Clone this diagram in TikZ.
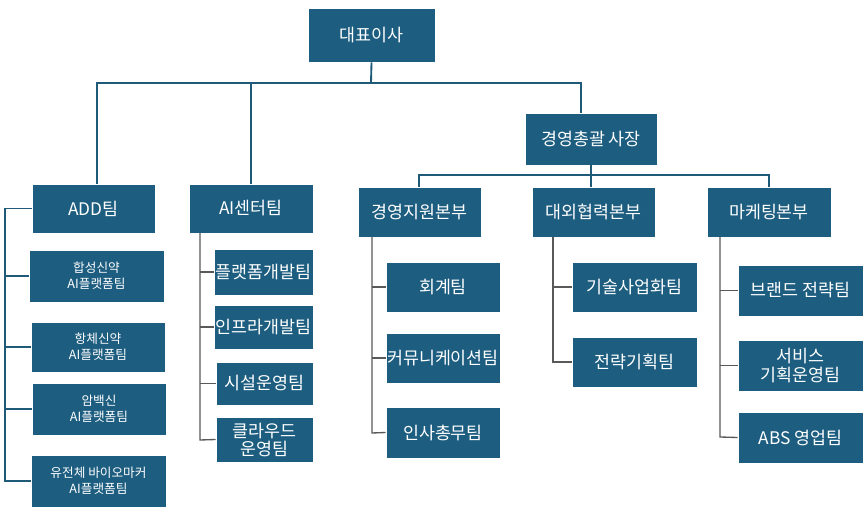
\documentclass[tikz,border=0pt]{standalone}
\usepackage{fontspec}
\setmainfont{Noto Sans CJK KR}
\begin{document}
\begin{tikzpicture}[x=0.75pt,y=-0.75pt,
  box/.style={fill=boxc,draw=white,line width=0.6pt,text=white,align=center,inner sep=0pt},
  conn/.style={draw=linec,line width=1.4pt},
  thin/.style={draw=gray!70!black,line width=1pt}]
\definecolor{boxc}{HTML}{1C5D80}
\definecolor{linec}{HTML}{1F5A78}
\fill[white] (0,0) rectangle (868,509);
\useasboundingbox (0,0) rectangle (868,509);
\newcommand{\bx}[6]{\node[box,minimum width={(#4-#2)*0.75pt},minimum height={(#5-#3)*0.75pt},font=#6] (#1) at ({(#2+#4)/2},{(#3+#5)/2}) {\strut};}
\newcommand{\lb}[3]{\node[text=white,align=center,font=#2] at (#1) {#3};}
\bx{ceo}{308}{8}{435}{62}{}
\bx{pres}{525}{113}{657}{165}{}
\bx{add}{32}{184}{155}{233}{}
\bx{aic}{189}{184}{313}{233}{}
\bx{a1}{29}{250}{164}{302}{}
\bx{a2}{31}{322}{165}{372}{}
\bx{a3}{32}{383}{166}{435}{}
\bx{a4}{31}{455}{166}{507}{}
\bx{c1}{214}{249}{313}{295}{}
\bx{c2}{214}{305}{313}{349}{}
\bx{c3}{216}{362}{313}{405}{}
\bx{c4}{216}{417}{313}{462}{}
\bx{m}{358}{187}{481}{237}{}
\bx{e}{532}{187}{655}{237}{}
\bx{k}{707}{187}{831}{237}{}
\bx{m1}{386}{262}{500}{312}{}
\bx{m2}{386}{333}{500}{383}{}
\bx{m3}{386}{407}{500}{458}{}
\bx{e1}{572}{262}{697}{312}{}
\bx{e2}{572}{337}{697}{387}{}
\bx{k1}{738}{265}{863}{316}{}
\bx{k2}{738}{340}{863}{391}{}
\bx{k3}{738}{412}{863}{463}{}
\def\big{\fontsize{13}{15}\selectfont}
\def\sm{\fontsize{9.5}{12}\selectfont}
\lb{ceo}{\big}{대표이사}
\lb{pres}{\big}{경영총괄 사장}
\lb{add}{\big}{ADD팀}
\lb{aic}{\big}{AI센터팀}
\lb{a1}{\sm}{합성신약\\AI플랫폼팀}
\lb{a2}{\sm}{항체신약\\AI플랫폼팀}
\lb{a3}{\sm}{암백신\\AI플랫폼팀}
\lb{a4}{\sm}{유전체 바이오마커\\AI플랫폼팀}
\lb{c1}{\big}{플랫폼개발팀}
\lb{c2}{\big}{인프라개발팀}
\lb{c3}{\big}{시설운영팀}
\lb{c4}{\fontsize{13}{13.5}\selectfont}{클라우드\\운영팀}
\lb{m}{\big}{경영지원본부}
\lb{e}{\big}{대외협력본부}
\lb{k}{\big}{마케팅본부}
\lb{m1}{\big}{회계팀}
\lb{m2}{\big}{커뮤니케이션팀}
\lb{m3}{\big}{인사총무팀}
\lb{e1}{\big}{기술사업화팀}
\lb{e2}{\big}{전략기획팀}
\lb{k1}{\big}{브랜드 전략팀}
\lb{k2}{\fontsize{13}{14}\selectfont}{서비스\\기획운영팀}
\lb{k3}{\big}{ABS 영업팀}
\draw[conn] (ceo.south) -- (371,83);
\draw[conn] (add.north -| 97,0) |- (581,83) -- (pres.north -| 581,0);
\draw[conn] (aic.north -| 251,0) -- (251,83);
\draw[conn] (pres.south) -- (591,175);
\draw[conn] (m.north -| 419,0) |- (769,175) -- (k.north -| 769,0);
\draw[conn] (e.north -| 591,0) -- (591,175);
\draw[conn] (add.west) -- (5,208.5) -- (5,481) -- (a4.west);
\foreach \n in {a1,a2,a3} \draw[conn] (5,0 |- \n.west) -- (\n.west);
\draw[thin] (200,233) -- (200,440) -- (c4.west);
\foreach \n in {c1,c2,c3} \draw[thin] (200,0 |- \n.west) -- (\n.west);
\draw[thin] (372,237) -- (372,433) -- (m3.west);
\foreach \n in {m1,m2} \draw[thin] (372,0 |- \n.west) -- (\n.west);
\draw[thin] (553,237) -- (553,362) -- (e2.west);
\draw[thin] (553,0 |- e1.west) -- (e1.west);
\draw[thin] (720,237) -- (720,437) -- (k3.west);
\foreach \n in {k1,k2} \draw[thin] (720,0 |- \n.west) -- (\n.west);
\end{tikzpicture}
\end{document}
